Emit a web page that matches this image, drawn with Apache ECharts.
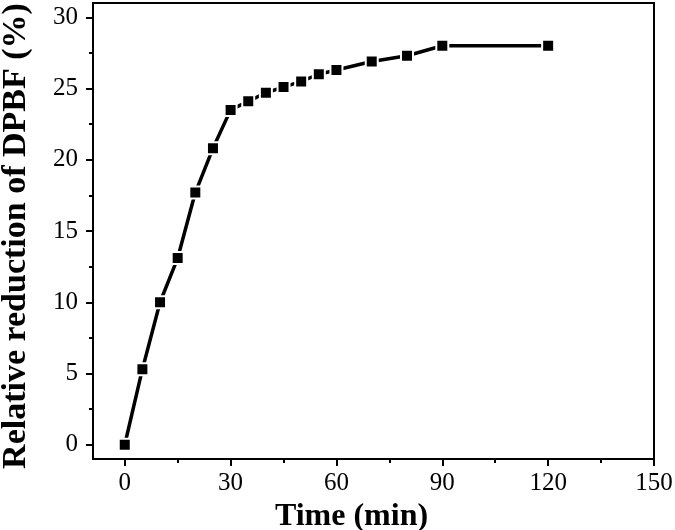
<!DOCTYPE html>
<html>
<head>
<meta charset="utf-8">
<script src="https://cdn.jsdelivr.net/npm/echarts@6/dist/echarts.min.js"></script>
<style>
  html, body { margin: 0; padding: 0; background: #fff; }
  #myChart { width: 675px; height: 530px; }
</style>
</head>
<body>
<div id="myChart"></div>
<script>
// data
var times = [0, 5, 10, 15, 20, 25, 30, 35, 40, 45, 50, 55, 60, 70, 80, 90, 120];
var reduction = [0, 5.3, 10.0, 13.1, 17.7, 20.8, 23.5, 24.1, 24.7, 25.1, 25.5, 26.0, 26.3, 26.9, 27.3, 28.0, 28.0];
var xTicks = [0, 30, 60, 90, 120, 150];
var xMinor = [15, 45, 75, 105, 135];
var yTicks = [0, 5, 10, 15, 20, 25, 30];
var yMinor = [2.5, 7.5, 12.5, 17.5, 22.5, 27.5];

var xy = [];
for (let i = 0; i < times.length; i++) {
  xy.push([times[i], reduction[i]]);
}

var serif = "Liberation Serif, Times New Roman, serif";
var chartDom = document.getElementById("myChart");
var myChart = echarts.init(chartDom, null, { renderer: "canvas" });

var option = {
  animation: false,
  grid: {
    left: 93,
    right: 21,
    top: 3,
    bottom: 71,
    containLabel: false,
    outerBoundsMode: "none",
    show: true,
    borderColor: "#000",
    borderWidth: 2,
    backgroundColor: "transparent"
  },
  xAxis: [
    {
      type: "value",
      min: -9,
      max: 150,
      position: "bottom",
      name: "Time (min)",
      nameLocation: "middle",
      nameGap: 32,
      nameTextStyle: { fontFamily: serif, fontWeight: "bold", fontSize: 32, color: "#000", padding: [0, 44, 0, 0] },
      axisLine: { show: true, onZero: false, lineStyle: { color: "#000", width: 2 } },
      axisTick: { show: true, inside: false, length: 7, customValues: xTicks, lineStyle: { color: "#000", width: 2 } },
      axisLabel: { customValues: xTicks, margin: 12, fontFamily: serif, fontSize: 25, color: "#000" },
      splitLine: { show: false }
    },
    {
      // minor ticks only
      type: "value",
      min: -9,
      max: 150,
      position: "bottom",
      axisLine: { show: false, onZero: false },
      axisTick: { show: true, length: 4, customValues: xMinor, lineStyle: { color: "#000", width: 2 } },
      axisLabel: { show: false },
      splitLine: { show: false }
    }
  ],
  yAxis: [
    {
      type: "value",
      min: -1,
      max: 31,
      position: "left",
      name: "Relative reduction of DPBF (%)",
      nameLocation: "middle",
      nameGap: 60,
      nameTextStyle: { fontFamily: serif, fontWeight: "bold", fontSize: 34, color: "#000", padding: [0, 10, 0, 0] },
      axisLine: { show: true, onZero: false, lineStyle: { color: "#000", width: 2 } },
      axisTick: { show: true, inside: false, length: 7, customValues: yTicks, lineStyle: { color: "#000", width: 2 } },
      axisLabel: { customValues: yTicks, margin: 15, fontFamily: serif, fontSize: 25, color: "#000" },
      splitLine: { show: false }
    },
    {
      type: "value",
      min: -1,
      max: 31,
      position: "left",
      axisLine: { show: false, onZero: false },
      axisTick: { show: true, length: 4, customValues: yMinor, lineStyle: { color: "#000", width: 2 } },
      axisLabel: { show: false },
      splitLine: { show: false }
    }
  ],
  series: [
    {
      name: "DPBF",
      type: "line",
      xAxisIndex: 0,
      yAxisIndex: 0,
      symbol: "rect",
      symbolSize: 12,
      lineStyle: { color: "#000", width: 3.5 },
      itemStyle: { color: "#000", borderColor: "#fff", borderWidth: 2 },
      data: xy
    }
  ]
};

option && myChart.setOption(option);
</script>
</body>
</html>
